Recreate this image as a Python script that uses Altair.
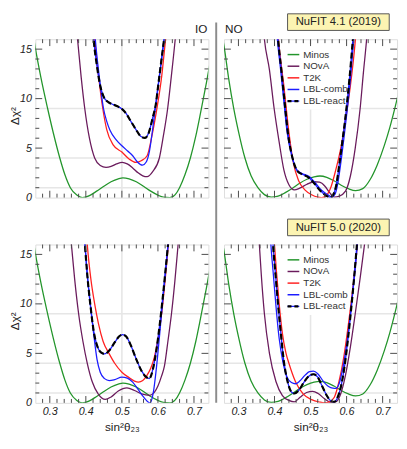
import altair as alt
import pandas as pd

# ---------------- data: sin^2(theta23) vs Delta chi^2 ----------------
minos_io_x = [0.255, 0.26, 0.275, 0.294, 0.31, 0.327, 0.342, 0.357, 0.375, 0.39, 0.41, 0.43, 0.45, 0.47, 0.49, 0.503,
              0.52, 0.54, 0.56, 0.58, 0.60, 0.615, 0.633, 0.648, 0.66, 0.675, 0.69, 0.705, 0.718, 0.735, 0.745]
minos_io_y = [16.2, 15.1, 12.2, 9.0, 6.5, 4.1, 2.3, 1.0, 0.25, 0.0, 0.2, 0.65, 1.15, 1.6, 1.9, 2.0,
              1.9, 1.6, 1.15, 0.65, 0.25, 0.05, 0.0, 0.3, 1.0, 2.3, 4.0, 6.2, 8.5, 11.7, 13.7]
minos_no_x = [0.255, 0.26, 0.273, 0.287, 0.30, 0.318, 0.335, 0.354, 0.372, 0.391, 0.41, 0.43, 0.45, 0.47, 0.49, 0.51,
              0.526, 0.545, 0.565, 0.585, 0.605, 0.625, 0.645, 0.665, 0.685, 0.705, 0.72, 0.735, 0.745]
minos_no_y = [16.3, 15.3, 12.0, 9.0, 6.7, 4.0, 2.2, 1.0, 0.3, 0.05, 0.15, 0.5, 0.95, 1.45, 1.85, 2.1,
              2.18, 2.05, 1.7, 1.25, 0.9, 0.7, 0.9, 1.8, 3.3, 5.3, 7.1, 9.2, 10.7]

# NuFIT 4.1 (2019), inverted ordering
nova_io19_x = [0.37, 0.377, 0.387, 0.397, 0.41, 0.4245, 0.44, 0.456, 0.47, 0.485, 0.501, 0.515, 0.53, 0.545, 0.558,
               0.57, 0.585, 0.604, 0.615, 0.627, 0.637, 0.648, 0.655]
nova_io19_y = [19.0, 16.0, 12.2, 9.0, 6.0, 4.0, 3.25, 3.06, 3.15, 3.4, 3.56, 3.4, 3.0, 2.5, 2.2,
               2.11, 2.6, 4.0, 6.2, 9.0, 12.2, 16.0, 18.8]
t2k_io19_x = [0.42, 0.4245, 0.4353, 0.447, 0.4578, 0.4758, 0.50, 0.5207, 0.539, 0.555, 0.57, 0.5836, 0.597, 0.6106,
              0.6196, 0.626]
t2k_io19_y = [18.0, 16.0, 12.3, 9.0, 6.9, 5.33, 4.6, 3.88, 3.56, 3.75, 4.23, 6.28, 8.96, 12.3, 15.4, 17.5]
comb_io19_x = [0.421, 0.4263, 0.437, 0.449, 0.458, 0.467, 0.485, 0.50, 0.516, 0.53, 0.543, 0.557, 0.5675, 0.5765,
               0.585, 0.594, 0.601, 0.608, 0.615, 0.622]
comb_io19_y = [18.5, 16.0, 12.3, 9.0, 7.7, 6.8, 5.8, 5.24, 4.7, 4.23, 3.6, 3.28, 3.6, 4.7,
               6.8, 9.4, 11.4, 13.4, 15.4, 17.5]
react_io19_x = [0.417, 0.4218, 0.4308, 0.44, 0.4506, 0.4623, 0.476, 0.489, 0.50, 0.5117, 0.525, 0.5387, 0.552, 0.564,
                0.575, 0.585, 0.594, 0.601, 0.608, 0.615, 0.622]
react_io19_y = [18.5, 16.0, 13.3, 11.3, 10.1, 9.65, 9.4, 9.2, 8.96, 8.5, 7.7, 6.9, 6.2, 6.03,
                6.6, 8.0, 9.4, 11.4, 13.4, 15.4, 17.5]

# NuFIT 4.1 (2019), normal ordering
nova_no19_x = [0.365, 0.372, 0.386, 0.399, 0.413, 0.426, 0.44, 0.455, 0.47, 0.49, 0.51, 0.525, 0.54, 0.553, 0.566,
               0.58, 0.597, 0.6106, 0.624, 0.6376, 0.6466, 0.6556, 0.662]
nova_no19_y = [19.0, 16.0, 12.9, 9.0, 5.6, 2.8, 1.3, 0.78, 0.95, 1.35, 1.6, 1.55, 1.15, 0.5, 0.05,
               0.15, 0.65, 2.18, 5.0, 9.0, 12.6, 16.0, 19.0]
t2k_no19_x = [0.406, 0.411, 0.426, 0.44, 0.453, 0.467, 0.485, 0.503, 0.52, 0.53, 0.54, 0.557, 0.57, 0.584, 0.597,
              0.6106, 0.6223, 0.627]
t2k_no19_y = [18.5, 16.0, 11.3, 6.6, 3.4, 1.7, 0.76, 0.28, 0.04, 0.0, 0.1, 1.1, 2.8, 5.0, 7.85, 11.3, 15.1, 17.0]
comb_no19_x = [0.403, 0.408, 0.417, 0.426, 0.435, 0.449, 0.462, 0.476, 0.494, 0.512, 0.53, 0.548, 0.559, 0.568,
               0.5746, 0.5836, 0.5926, 0.6016, 0.6106, 0.6178, 0.622]
comb_no19_y = [18.5, 16.0, 12.9, 9.7, 6.6, 4.07, 2.8, 2.43, 2.18, 1.55, 0.76, 0.28, 0.06, 0.35,
               1.23, 3.4, 6.0, 8.8, 12.0, 15.1, 17.0]
react_no19_x = [0.405, 0.41, 0.419, 0.428, 0.437, 0.45, 0.463, 0.477, 0.494, 0.51, 0.527, 0.543, 0.554, 0.563,
                0.571, 0.58, 0.5895, 0.599, 0.608, 0.6155, 0.62]
react_no19_y = [18.5, 16.0, 12.9, 9.7, 6.6, 4.0, 2.7, 2.35, 2.05, 1.45, 0.7, 0.2, 0.02, 0.3,
                1.2, 3.4, 6.0, 8.8, 12.0, 15.1, 17.0]

# NuFIT 5.0 (2020), inverted ordering
nova_io20_x = [0.352, 0.36, 0.369, 0.38, 0.392, 0.404, 0.418, 0.435, 0.454, 0.47, 0.49, 0.514, 0.535, 0.555, 0.577,
               0.59, 0.60, 0.61, 0.618, 0.628, 0.6376, 0.647, 0.656, 0.662]
nova_io20_y = [19.0, 16.0, 12.5, 9.0, 6.2, 4.0, 2.1, 0.85, 0.35, 0.6, 1.2, 1.52, 1.25, 0.9, 0.76,
               1.05, 1.7, 2.7, 3.7, 6.3, 9.0, 12.3, 16.0, 18.5]
t2k_io20_x = [0.40, 0.404, 0.414, 0.4245, 0.435, 0.448, 0.465, 0.48, 0.50, 0.52, 0.535, 0.546, 0.558, 0.57, 0.58,
              0.59, 0.60, 0.61, 0.62, 0.628, 0.632]
t2k_io20_y = [18.0, 16.0, 12.5, 10.0, 8.0, 6.2, 4.95, 4.0, 3.1, 2.55, 2.2, 2.1, 2.25, 2.8, 3.5,
              4.6, 6.4, 8.9, 12.4, 15.6, 17.4]
comb_io20_x = [0.393, 0.3975, 0.404, 0.413, 0.422, 0.431, 0.44, 0.452, 0.465, 0.48, 0.50, 0.515, 0.53, 0.545, 0.56,
               0.578, 0.587, 0.596, 0.605, 0.613, 0.62, 0.627, 0.633]
comb_io20_y = [18.5, 16.0, 12.95, 9.78, 6.9, 4.4, 3.1, 2.45, 2.25, 2.35, 2.6, 2.5, 2.1, 1.35, 0.6,
               0.0, 1.0, 3.6, 7.0, 10.2, 12.9, 15.6, 18.0]
react_io20_x = [0.393, 0.3975, 0.404, 0.413, 0.422, 0.432, 0.442, 0.452, 0.465, 0.48, 0.492, 0.502, 0.512, 0.525,
                0.54, 0.555, 0.568, 0.576, 0.586, 0.596, 0.605, 0.613, 0.62, 0.627, 0.633]
react_io20_y = [18.5, 16.0, 12.95, 9.78, 7.2, 5.7, 5.1, 4.95, 5.3, 6.1, 6.7, 6.9, 6.7, 5.8,
                4.4, 3.2, 2.6, 2.45, 3.4, 5.4, 7.9, 10.5, 13.0, 15.6, 18.0]

# NuFIT 5.0 (2020), normal ordering
nova_no20_x = [0.352, 0.358, 0.3634, 0.372, 0.386, 0.404, 0.422, 0.44, 0.455, 0.471, 0.489, 0.506, 0.521, 0.539,
               0.557, 0.57, 0.5836, 0.597, 0.6106, 0.624, 0.6376, 0.648, 0.655]
nova_no20_y = [19.0, 16.0, 12.95, 9.0, 5.0, 2.16, 0.73, 0.25, 0.1, 0.57, 1.05, 1.17, 0.95, 0.41,
               0.03, 0.1, 0.9, 2.8, 5.65, 9.0, 12.6, 15.5, 17.5]
t2k_no20_x = [0.394, 0.398, 0.405, 0.413, 0.422, 0.432, 0.44, 0.458, 0.48, 0.503, 0.525, 0.539, 0.552, 0.566,
              0.579, 0.5926, 0.606, 0.6196, 0.6286, 0.633]
t2k_no20_y = [19.0, 17.0, 13.5, 10.0, 7.0, 5.0, 4.0, 2.16, 0.89, 0.32, 0.08, 0.0, 0.1, 0.57,
              2.16, 4.7, 8.2, 12.3, 15.5, 17.5]
comb_no20_x = [0.386, 0.390, 0.397, 0.405, 0.413, 0.423, 0.435, 0.447, 0.458, 0.47, 0.485, 0.497, 0.508, 0.52,
               0.535, 0.55, 0.562, 0.571, 0.58, 0.59, 0.60, 0.61, 0.619, 0.627, 0.633]
comb_no20_y = [18.5, 16.0, 12.9, 9.4, 6.5, 4.2, 2.6, 2.05, 1.93, 2.2, 2.8, 3.15, 3.2, 2.95,
               2.2, 1.65, 1.48, 1.46, 2.0, 3.6, 5.8, 8.7, 11.8, 14.8, 17.5]
react_no20_x = [0.392, 0.396, 0.403, 0.411, 0.418, 0.426, 0.436, 0.447, 0.455, 0.468, 0.482, 0.495, 0.508, 0.52,
                0.532, 0.545, 0.556, 0.566, 0.575, 0.584, 0.594, 0.604, 0.613, 0.621, 0.628, 0.632]
react_no20_y = [18.5, 16.0, 12.9, 9.5, 6.9, 4.2, 2.2, 1.1, 0.95, 1.3, 2.1, 2.7, 2.89, 2.6,
                1.7, 0.75, 0.2, 0.1, 0.55, 1.6, 3.6, 6.5, 9.6, 12.7, 15.7, 17.5]

SERIES = ["Minos", "NOvA", "T2K", "LBL-comb", "LBL-react"]
COLORS = ["#23952b", "#6a1b5c", "#ff2020", "#1c1cff", "#000000"]
TAGS = ["NuFIT 4.1 (2019)", "NuFIT 5.0 (2020)"]
ORDER_LABELS = ["IO", "NO"]

X_MAJOR = [0.3, 0.4, 0.5, 0.6, 0.7]
X_MINOR = [0.28, 0.32, 0.34, 0.36, 0.38, 0.42, 0.44, 0.46, 0.48, 0.52, 0.54, 0.56, 0.58, 0.62, 0.64, 0.66, 0.68, 0.72]
Y_MAJOR = [5, 10, 15]
Y_MINOR = [1, 2, 3, 4, 6, 7, 8, 9, 11, 12, 13, 14]
Y_LABELS = [0, 5, 10, 15]
H_GRID = [1, 4, 9]
V_GRID = [0.5]

# ---------------- styling / layout ----------------
FONT = "Liberation Sans"
W, H = 177, 162
ROW_GAP, COL_GAP = 48, 16
TICK_MAJOR, TICK_MINOR = 7, 4
TICK_COLOR = "#4a4a4a"
GRID_COLOR = "#e6e6e6"
TEXT_COLOR = "#222222"

xs = alt.Scale(domain=[0.26, 0.74], nice=False, zero=False)
ys = alt.Scale(domain=[0, 16], nice=False, zero=False)
ONE = pd.DataFrame({"k": [0]})


def panel(curves, show_x, show_y, legend, corner_text, corner_left, tag, divider):
    if show_x:
        xaxis = alt.Axis(values=X_MAJOR, format=".1f", ticks=False, tickSize=0, domain=False, grid=False,
                         labelFont=FONT, labelFontSize=11, labelFontStyle="italic", labelColor=TEXT_COLOR,
                         labelPadding=3, labelFlush=False, labelOverlap=False,
                         title="sin²θ₂₃", titleFont=FONT, titleFontSize=12, titleFontWeight="normal",
                         titleColor=TEXT_COLOR, titleX=W / 2, titleY=28, titleBaseline="alphabetic",
                         titleAlign="center")
    else:
        xaxis = None
    if show_y:
        yaxis = alt.Axis(values=Y_LABELS, ticks=False, tickSize=0, domain=False, grid=False,
                         labelFont=FONT, labelFontSize=11, labelFontStyle="italic", labelColor=TEXT_COLOR,
                         labelPadding=4, labelFlush=False, labelOverlap=False,
                         title="Δχ²", titleFont=FONT, titleFontSize=12, titleFontWeight="normal",
                         titleColor=TEXT_COLOR, titleX=-17, titleY=H / 2 - 3, titleAngle=270,
                         titleBaseline="alphabetic", titleAlign="center")
    else:
        yaxis = None

    def X(f):
        return alt.X(f"{f}:Q", scale=xs, axis=xaxis)

    def Y(f):
        return alt.Y(f"{f}:Q", scale=ys, axis=yaxis)

    layers = []
    # grid lines
    layers.append(alt.Chart(pd.DataFrame({"g": V_GRID})).mark_rule(color=GRID_COLOR, strokeWidth=1.6)
                  .encode(x=X("g"), y=alt.value(0), y2=alt.value(H)))
    layers.append(alt.Chart(pd.DataFrame({"g": H_GRID})).mark_rule(color=GRID_COLOR, strokeWidth=1.6)
                  .encode(y=Y("g"), x=alt.value(0), x2=alt.value(W)))
    # legend background
    if legend:
        layers.append(alt.Chart(ONE).mark_rect(fill="white")
                      .encode(x=alt.value(60), x2=alt.value(130), y=alt.value(5), y2=alt.value(72)))
    # curves
    for name, color, (cx, cy) in zip(SERIES, COLORS, curves):
        df = pd.DataFrame({"s": cx, "d": cy})
        base = alt.Chart(df)
        if name == "LBL-react":
            layers.append(base.mark_line(color=COLORS[3], strokeWidth=1.3, clip=True, interpolate="monotone")
                          .encode(x=X("s"), y=Y("d")))
            layers.append(base.mark_line(color=color, strokeWidth=2.2, strokeDash=[6, 3], clip=True,
                                         interpolate="monotone")
                          .encode(x=X("s"), y=Y("d")))
        else:
            layers.append(base.mark_line(color=color, strokeWidth=1.3, clip=True, interpolate="monotone")
                          .encode(x=X("s"), y=Y("d")))
    # inward ticks on all four sides
    for vals, ln in ((X_MAJOR, TICK_MAJOR), (X_MINOR, TICK_MINOR)):
        d = pd.DataFrame({"t": vals})
        layers.append(alt.Chart(d).mark_rule(color=TICK_COLOR, strokeWidth=1)
                      .encode(x=X("t"), y=alt.value(H), y2=alt.value(H - ln)))
        layers.append(alt.Chart(d).mark_rule(color=TICK_COLOR, strokeWidth=1)
                      .encode(x=X("t"), y=alt.value(0), y2=alt.value(ln)))
    for vals, ln in ((Y_MAJOR, TICK_MAJOR), (Y_MINOR, TICK_MINOR)):
        d = pd.DataFrame({"t": vals})
        layers.append(alt.Chart(d).mark_rule(color=TICK_COLOR, strokeWidth=1)
                      .encode(y=Y("t"), x=alt.value(0), x2=alt.value(ln)))
        layers.append(alt.Chart(d).mark_rule(color=TICK_COLOR, strokeWidth=1)
                      .encode(y=Y("t"), x=alt.value(W), x2=alt.value(W - ln)))
    # legend entries
    if legend:
        for i, (name, color) in enumerate(zip(SERIES, COLORS)):
            yrow = 15.7 + 11.9 * i
            if name == "LBL-react":
                layers.append(alt.Chart(ONE).mark_rule(color=COLORS[3], strokeWidth=1.3)
                              .encode(x=alt.value(65), x2=alt.value(77), y=alt.value(yrow)))
                layers.append(alt.Chart(ONE).mark_rule(color=color, strokeWidth=2.2, strokeDash=[4, 3])
                              .encode(x=alt.value(65), x2=alt.value(77), y=alt.value(yrow)))
            else:
                layers.append(alt.Chart(ONE).mark_rule(color=color, strokeWidth=1.5)
                              .encode(x=alt.value(65), x2=alt.value(77), y=alt.value(yrow)))
            layers.append(alt.Chart(pd.DataFrame({"label": [name]}))
                          .mark_text(align="left", baseline="middle", font=FONT, fontSize=10, color="#333333")
                          .encode(text="label:N", x=alt.value(81), y=alt.value(yrow)))
    # corner label IO / NO
    if corner_text:
        layers.append(alt.Chart(pd.DataFrame({"label": [corner_text]}))
                      .mark_text(align="left" if corner_left else "right", baseline="alphabetic", font=FONT,
                                 fontSize=12, color=TEXT_COLOR)
                      .encode(text="label:N", x=alt.value(1 if corner_left else W - 1), y=alt.value(-6)))
    # NuFIT tag box
    if tag:
        layers.append(alt.Chart(ONE).mark_rect(fill="#fcf4b2", stroke="#555555", strokeWidth=1)
                      .encode(x=alt.value(65), x2=alt.value(169), y=alt.value(-26), y2=alt.value(-9)))
        layers.append(alt.Chart(pd.DataFrame({"label": [tag]}))
                      .mark_text(align="center", baseline="middle", font=FONT, fontSize=11.5, color=TEXT_COLOR)
                      .encode(text="label:N", x=alt.value(117), y=alt.value(-17.2)))
    if divider:
        layers.append(alt.Chart(ONE).mark_rule(color="#8c8c8c", strokeWidth=2)
                      .encode(x=alt.value(-8), y=alt.value(-17), y2=alt.value(2 * H + ROW_GAP)))
    if show_y:
        # invisible (white) anchor fixing the left margin of the figure
        layers.append(alt.Chart(ONE).mark_rule(color="white", strokeWidth=1)
                      .encode(x=alt.value(-26), y=alt.value(H / 2), y2=alt.value(H / 2 + 1)))
    return alt.layer(*layers).properties(width=W, height=H)


tl = panel([(minos_io_x, minos_io_y), (nova_io19_x, nova_io19_y), (t2k_io19_x, t2k_io19_y),
            (comb_io19_x, comb_io19_y), (react_io19_x, react_io19_y)],
           show_x=False, show_y=True, legend=False, corner_text=ORDER_LABELS[0], corner_left=False,
           tag=None, divider=False)
tr = panel([(minos_no_x, minos_no_y), (nova_no19_x, nova_no19_y), (t2k_no19_x, t2k_no19_y),
            (comb_no19_x, comb_no19_y), (react_no19_x, react_no19_y)],
           show_x=False, show_y=False, legend=True, corner_text=ORDER_LABELS[1], corner_left=True,
           tag=TAGS[0], divider=True)
bl = panel([(minos_io_x, minos_io_y), (nova_io20_x, nova_io20_y), (t2k_io20_x, t2k_io20_y),
            (comb_io20_x, comb_io20_y), (react_io20_x, react_io20_y)],
           show_x=True, show_y=True, legend=False, corner_text="", corner_left=False,
           tag=None, divider=False)
br = panel([(minos_no_x, minos_no_y), (nova_no20_x, nova_no20_y), (t2k_no20_x, t2k_no20_y),
            (comb_no20_x, comb_no20_y), (react_no20_x, react_no20_y)],
           show_x=True, show_y=False, legend=True, corner_text="", corner_left=True,
           tag=TAGS[1], divider=False)

chart = alt.concat(tl, tr, bl, br, columns=2, spacing={"row": ROW_GAP, "column": COL_GAP}, bounds="flush").properties(
    padding={"left": 0, "top": 0, "right": 0, "bottom": 0}
).configure_view(stroke="#222222", strokeWidth=1.5).configure(background="white")

chart.save("out.html", embed_options={"renderer": "svg", "actions": False})
